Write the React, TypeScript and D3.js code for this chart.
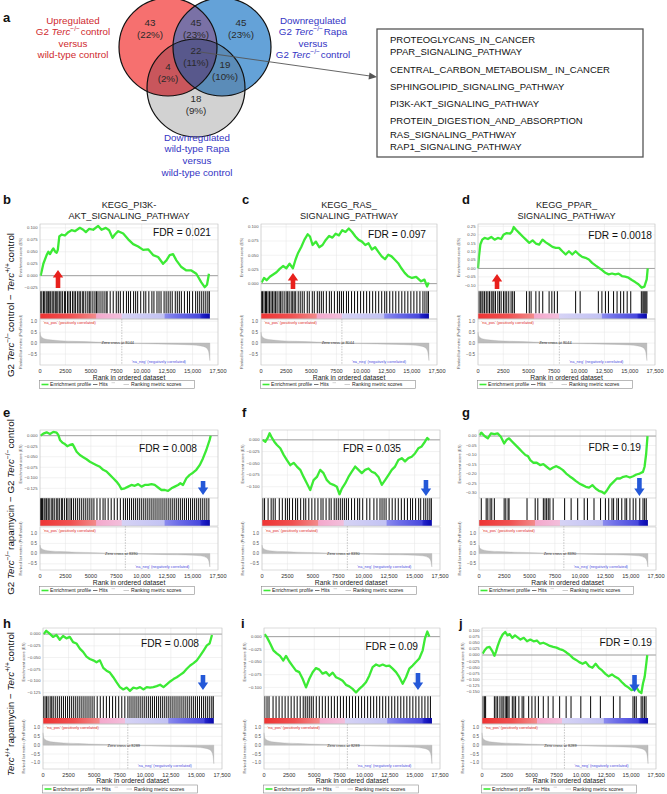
import React from "react";
import * as d3 from "d3";

const FONT = "'Liberation Sans', Arial, Helvetica, sans-serif";

/* ================= DATA ================= */
// Panel a : Venn counts (regions: R only, R∩B, B only, R∩B∩G, R∩G, B∩G, G only)
const vennCounts = [43, 45, 45, 22, 4, 19, 18];
const vennPercents = ["22%", "23%", "23%", "11%", "2%", "10%", "9%"];
const sharedPathways = [
  "PROTEOGLYCANS_IN_CANCER",
  "PPAR_SIGNALING_PATHWAY",
  "CENTRAL_CARBON_METABOLISM_ IN_CANCER",
  "SPHINGOLIPID_SIGNALING_PATHWAY",
  "PI3K-AKT_SIGNALING_PATHWAY",
  "PROTEIN_DIGESTION_AND_ABSORPTION",
  "RAS_SIGNALING_PATHWAY",
  "RAP1_SIGNALING_PATHWAY",
];

// GSEA panels
const panelLetters = ["b", "c", "d", "e", "f", "g", "h", "i", "j"];
const panelTitles = [
  ["KEGG_PI3K-", "AKT_SIGNALING_PATHWAY"],
  ["KEGG_RAS_", "SIGNALING_PATHWAY"],
  ["KEGG_PPAR_", "SIGNALING_PATHWAY"],
  [], [], [], [], [], [],
];
const panelFDR = ["0.021", "0.097", "0.0018", "0.008", "0.035", "0.19", "0.008", "0.09", "0.19"];
const zeroCross = [8044, 8390, 8289];
const datasetSize = [16700, 16700, 16700];
const rankTicks = [0, 2500, 5000, 7500, 10000, 12500, 15000, 17500];

const esTicksB = [0.1, 0.075, 0.05, 0.025, 0, -0.025];
const esTicksC = [0.1, 0.075, 0.05, 0.025, 0];
const esTicksD = [0.25, 0.2, 0.15, 0.1, 0.05, 0, -0.05, -0.1];
const esTicksE = [0, -0.025, -0.05, -0.075, -0.1, -0.125];
const esTicksF = [0, -0.025, -0.05, -0.075, -0.1];
const esTicksG = [0, -0.05, -0.1, -0.15, -0.2, -0.25, -0.3];
const esTicksH = [0, -0.025, -0.05, -0.075, -0.1, -0.125];
const esTicksI = [0, -0.025, -0.05, -0.075, -0.1];
const esTicksJ = [0.1, 0.075, 0.05, 0.025, 0, -0.025, -0.05, -0.075, -0.1, -0.125, -0.15];
const metricTicksShort = [1, 0.5, 0, -0.5];
const metricTicksLong = [1, 0.5, 0, -0.5, -1];

// Running enrichment score: [rank, ES]
const esB = [[65,0],[330,0.025],[650,0.043],[820,0.05],[980,0.045],[1210,0.054],[1310,0.057],[1500,0.05],[1640,0.048],[1750,0.054],[1900,0.082],[2130,0.086],[2450,0.084],[2780,0.091],[3100,0.095],[3430,0.093],[3920,0.1],[4250,0.096],[4510,0.091],[4840,0.098],[5230,0.096],[5720,0.104],[6050,0.096],[6470,0.1],[6800,0.095],[7130,0.079],[7360,0.086],[7690,0.093],[8180,0.088],[8670,0.076],[9160,0.066],[9650,0.061],[10140,0.054],[10630,0.055],[11120,0.043],[11610,0.039],[12100,0.025],[12430,0.032],[12750,0.043],[13080,0.045],[13410,0.032],[13900,0.018],[14390,0.011],[14880,0.011],[15370,0.004],[15860,-0.014],[16190,-0.024],[16420,-0.019],[16610,0.004]];
const esC = [[65,0.002],[300,0.01],[560,0.006],[880,0.012],[1210,0.016],[1540,0.02],[1860,0.026],[2190,0.031],[2520,0.027],[2840,0.035],[3170,0.027],[3430,0.042],[3660,0.053],[3990,0.064],[4310,0.077],[4640,0.087],[4870,0.083],[5130,0.068],[5460,0.074],[5790,0.064],[6120,0.068],[6440,0.077],[6770,0.084],[7100,0.081],[7420,0.088],[7750,0.085],[8080,0.094],[8400,0.091],[8730,0.097],[9060,0.091],[9390,0.083],[9710,0.077],[10040,0.074],[10370,0.068],[10690,0.071],[11020,0.06],[11350,0.064],[11670,0.056],[12000,0.048],[12330,0.043],[12660,0.051],[12980,0.048],[13310,0.042],[13640,0.036],[13960,0.027],[14290,0.019],[14620,0.013],[15010,0.01],[15430,0.012],[15920,0.004],[16250,0.007],[16510,-0.005],[16680,0.002]];
const esD = [[0,0],[100,0.073],[230,0.142],[420,0.171],[650,0.181],[980,0.175],[1310,0.187],[1640,0.171],[1960,0.181],[2290,0.175],[2520,0.2],[2840,0.21],[3170,0.207],[3370,0.22],[3530,0.246],[3760,0.23],[4090,0.21],[4420,0.19],[4740,0.171],[5070,0.152],[5400,0.167],[5720,0.148],[6050,0.142],[6380,0.171],[6700,0.155],[7030,0.142],[7360,0.128],[7690,0.122],[8010,0.122],[8340,0.102],[8670,0.083],[8990,0.102],[9320,0.083],[9650,0.102],[9980,0.083],[10300,0.069],[10630,0.063],[10960,0.053],[11280,0.033],[11610,0.018],[11940,0.004],[12270,-0.01],[12590,-0.026],[12920,-0.035],[13250,-0.03],[13570,-0.035],[13900,-0.031],[14230,-0.045],[14550,-0.049],[14880,-0.055],[15210,-0.069],[15540,-0.081],[15860,-0.094],[16190,-0.114],[16450,-0.108],[16680,-0.065],[16780,0]];
const esE = [[65,0],[330,0.005],[650,0.008],[980,0.004],[1310,0.009],[1640,0.007],[1800,0.002],[1960,-0.01],[2220,-0.017],[2450,-0.02],[2680,-0.025],[2940,-0.022],[3200,-0.02],[3340,-0.026],[3600,-0.038],[3920,-0.046],[4250,-0.051],[4580,-0.056],[4910,-0.062],[5230,-0.066],[5560,-0.07],[5890,-0.074],[6210,-0.081],[6540,-0.085],[6870,-0.093],[7200,-0.101],[7520,-0.109],[7780,-0.117],[8010,-0.127],[8340,-0.125],[8670,-0.121],[8990,-0.117],[9320,-0.119],[9650,-0.115],[9980,-0.121],[10300,-0.117],[10630,-0.117],[10960,-0.115],[11280,-0.117],[11610,-0.123],[11940,-0.129],[12270,-0.129],[12590,-0.131],[12920,-0.125],[13250,-0.121],[13570,-0.117],[13800,-0.113],[14060,-0.117],[14390,-0.101],[14720,-0.093],[15040,-0.088],[15370,-0.081],[15700,-0.07],[16020,-0.054],[16350,-0.034],[16680,-0.01],[16780,0]];
const esF = [[65,0],[330,-0.004],[560,0.004],[750,0.014],[980,0.004],[1210,-0.004],[1470,-0.011],[1800,-0.018],[2130,-0.032],[2450,-0.043],[2780,-0.054],[3110,-0.049],[3430,-0.057],[3760,-0.064],[4090,-0.079],[4420,-0.093],[4740,-0.107],[5070,-0.086],[5400,-0.079],[5720,-0.064],[6050,-0.071],[6380,-0.086],[6700,-0.093],[7030,-0.096],[7360,-0.1],[7620,-0.116],[7850,-0.104],[8180,-0.093],[8500,-0.079],[8830,-0.068],[9160,-0.057],[9490,-0.064],[9810,-0.071],[10140,-0.064],[10470,-0.061],[10790,-0.068],[11120,-0.071],[11450,-0.079],[11780,-0.096],[12100,-0.086],[12430,-0.075],[12760,-0.064],[13080,-0.057],[13410,-0.043],[13740,-0.039],[14060,-0.046],[14390,-0.039],[14720,-0.036],[15040,-0.029],[15370,-0.018],[15700,-0.014],[16020,-0.004],[16250,0.004],[16440,0]];
const esG = [[65,0.005],[226,0.018],[550,0],[870,-0.012],[1190,0.014],[1520,0.01],[1840,0.014],[2160,-0.004],[2490,-0.039],[2710,-0.021],[2970,-0.012],[3290,-0.03],[3620,-0.048],[3940,-0.065],[4260,-0.083],[4590,-0.1],[4840,-0.106],[5070,-0.127],[5390,-0.141],[5710,-0.141],[6040,-0.153],[6360,-0.148],[6680,-0.162],[7010,-0.176],[7330,-0.166],[7650,-0.159],[7980,-0.168],[8300,-0.18],[8620,-0.198],[8950,-0.212],[9270,-0.224],[9590,-0.238],[9910,-0.25],[10240,-0.259],[10560,-0.268],[10880,-0.272],[11210,-0.259],[11530,-0.277],[11850,-0.289],[12170,-0.295],[12400,-0.303],[12660,-0.286],[12980,-0.259],[13300,-0.242],[13630,-0.224],[13950,-0.224],[14270,-0.215],[14590,-0.212],[14920,-0.219],[15240,-0.212],[15560,-0.203],[15890,-0.198],[16210,-0.189],[16370,-0.162],[16530,-0.092],[16660,0]];
const esH = [[65,0],[320,0.007],[650,0.001],[980,-0.006],[1310,-0.002],[1640,-0.012],[1960,-0.004],[2290,-0.009],[2620,-0.006],[2940,-0.017],[3270,-0.02],[3600,-0.031],[3920,-0.038],[4250,-0.048],[4580,-0.053],[4910,-0.056],[5230,-0.06],[5560,-0.056],[5890,-0.072],[6210,-0.078],[6540,-0.082],[6870,-0.092],[7200,-0.103],[7520,-0.113],[7850,-0.118],[8180,-0.114],[8500,-0.121],[8830,-0.114],[9160,-0.116],[9490,-0.113],[9810,-0.118],[10140,-0.113],[10470,-0.114],[10790,-0.113],[11120,-0.111],[11450,-0.108],[11780,-0.113],[12100,-0.107],[12430,-0.101],[12760,-0.096],[13080,-0.092],[13410,-0.087],[13740,-0.082],[14060,-0.074],[14390,-0.067],[14720,-0.062],[15040,-0.056],[15370,-0.046],[15700,-0.035],[16020,-0.024],[16290,-0.02],[16520,-0.002]];
const esI = [[65,0.005],[260,0],[600,-0.013],[930,-0.027],[1260,-0.033],[1590,-0.038],[1920,-0.047],[2190,-0.038],[2520,-0.049],[2850,-0.058],[3180,-0.067],[3510,-0.07],[3840,-0.083],[4180,-0.1],[4510,-0.083],[4840,-0.07],[5170,-0.062],[5500,-0.065],[5830,-0.073],[6170,-0.07],[6500,-0.077],[6830,-0.071],[7160,-0.08],[7490,-0.083],[7820,-0.087],[8150,-0.095],[8480,-0.098],[8810,-0.103],[9150,-0.11],[9480,-0.103],[9810,-0.097],[10140,-0.09],[10470,-0.077],[10800,-0.06],[11140,-0.055],[11470,-0.058],[11800,-0.055],[12130,-0.058],[12460,-0.057],[12790,-0.063],[13130,-0.07],[13460,-0.08],[13790,-0.093],[14120,-0.08],[14450,-0.063],[14780,-0.057],[15110,-0.05],[15440,-0.043],[15780,-0.027],[16010,-0.003],[16240,0.01],[16440,0]];
const esJ = [[65,0.006],[230,0.017],[490,0.03],[760,0.033],[1020,0.017],[1250,-0.003],[1410,0.014],[1580,0.037],[1810,0.063],[2070,0.083],[2330,0.094],[2560,0.08],[2790,0.085],[3050,0.07],[3320,0.08],[3550,0.073],[3870,0.063],[4200,0.07],[4530,0.056],[4860,0.063],[5190,0.056],[5520,0.059],[5840,0.046],[6170,0.05],[6500,0.044],[6830,0.037],[7160,0.033],[7490,0.03],[7810,0.024],[8140,0.02],[8470,0.011],[8800,0.001],[9130,-0.012],[9460,-0.02],[9780,-0.029],[10110,-0.036],[10440,-0.029],[10770,-0.046],[11100,-0.052],[11430,-0.036],[11750,-0.052],[12080,-0.063],[12410,-0.077],[12740,-0.087],[13070,-0.079],[13400,-0.089],[13720,-0.096],[14050,-0.11],[14380,-0.123],[14710,-0.132],[15040,-0.143],[15270,-0.14],[15530,-0.132],[15800,-0.149],[16030,-0.155],[16190,-0.116],[16360,-0.089],[16520,-0.036],[16620,0]];

// Hit positions (ranks of gene-set members)
const hitsB = [60,180,350,420,600,700,820,900,1050,1200,1350,1500,1600,1750,1900,2050,2200,2400,2500,2700,2850,3000,3200,3350,3500,3700,3850,4000,4200,4300,4500,4700,4850,5000,5200,5400,5550,5700,5900,6100,6300,6500,6600,6900,7200,7500,7700,7900,8200,8500,8700,8900,9200,9400,9600,9900,10200,10400,10700,11000,11200,11500,11700,11900,12200,12400,12600,12800,13000,13300,13500,13700,13900,14200,14500,14700,15000,15300,15500,15700,15900,16100,16300,16500,16650];
const hitsC = [50,150,300,450,550,700,850,1000,1150,1300,1450,1600,1800,1950,2100,2300,2500,2650,2800,3000,3150,3300,3450,3700,3900,4100,4300,4600,4800,5100,5300,5600,5800,6000,6200,6500,6800,7000,7300,7600,7800,8000,8200,8500,8700,9000,9300,9600,9900,10200,10500,10800,11100,11400,11700,12000,12300,12500,12800,13100,13400,13700,14000,14300,14600,14900,15200,15500,15800,16100,16300,16500,16650];
const hitsD = [100,230,390,490,650,820,980,1140,1310,1470,1570,1730,1960,2130,2290,2520,2680,2840,3040,3270,3430,3600,4800,5070,5250,5720,6050,6400,7030,7300,7550,7850,9650,10100,11900,12250,12600,12900,13400,13750,14100,14400,14750,15100,16150,16300,16400,16500,16600,16700];
const hitsE = [50,150,250,400,500,650,800,900,1100,1250,1400,1600,1750,1900,2100,2200,2400,2600,2750,2950,3100,3300,3500,3700,3900,4100,4300,4500,4700,4900,5100,5300,5600,5900,6200,6400,6700,7000,7300,7600,7900,8200,8400,8600,8800,9000,9200,9400,9600,9800,10000,10200,10400,10600,10800,11000,11200,11400,11600,11800,12000,12200,12400,12600,12800,13000,13200,13400,13600,13800,14000,14200,14400,14600,14800,15000,15200,15400,15600,15800,16000,16200,16400,16600];
const hitsF = [80,250,600,900,1100,1300,1700,2000,2300,2500,2700,3000,3300,3500,3800,4100,4300,4600,4900,5200,5500,5800,6000,6300,6600,6800,7100,7300,7500,7700,7900,8100,8300,8500,8800,9100,9400,9600,9900,10300,10600,11000,11300,11600,11800,12000,12200,12500,12800,13100,13400,13700,14000,14300,14600,14800,15100,15400,15600,15900,16100,16300,16500,16650];
const hitsG = [226,710,872,1098,1260,1518,2487,2649,2875,2972,4748,5556,5814,6363,6525,6686,6848,7009,7332,8463,9109,9755,10401,10724,11370,12016,12500,12823,13146,13307,13630,13792,14115,14438,14600,14923,15246,15505,15892,16215,16376,16537];
const hitsH = [50,200,350,500,700,850,1000,1200,1400,1600,1800,2000,2200,2400,2600,2800,3000,3200,3400,3600,3800,4000,4200,4400,4600,4800,5000,5300,5600,5900,6200,6500,6800,7100,7400,7700,8000,8300,8500,8700,8900,9100,9300,9500,9700,9900,10100,10300,10500,10700,10900,11100,11300,11500,11700,11900,12100,12300,12500,12700,12900,13100,13300,13500,13700,13900,14100,14300,14500,14700,14900,15100,15300,15500,15700,15900,16100,16300,16500,16650];
const hitsI = [80,300,500,900,1200,1500,1800,2100,2400,2700,3000,3300,3600,3900,4100,4300,4500,4700,4900,5200,5500,5800,6100,6400,6700,7000,7300,7600,7900,8200,8500,8800,9100,9400,9700,10000,10300,10600,10900,11200,11500,11800,12100,12400,12700,13000,13300,13600,13900,14200,14500,14800,15100,15400,15700,16000,16300,16550];
const hitsJ = [98,262,361,1246,1410,1574,1804,2001,2132,2329,2460,2591,2722,3050,3214,3378,3706,4034,4198,4690,5018,5346,5674,6166,6658,7150,7806,8462,8954,9938,10922,11906,13218,13874,15186,15350,15514,16006,16170,16334,16498];

// Ranked list metric per comparison row: [rank, metric]
const metricRow1 = [[0,0.5],[60,0.35],[200,0.26],[500,0.19],[1000,0.15],[2000,0.11],[3500,0.08],[5500,0.05],[7000,0.025],[8044,0],[9500,-0.02],[11500,-0.04],[13500,-0.06],[15000,-0.09],[15800,-0.13],[16300,-0.2],[16550,-0.35],[16650,-0.6],[16700,-0.8]];
const metricRow2 = [[0,0.42],[60,0.3],[200,0.23],[500,0.17],[1000,0.13],[2000,0.1],[3500,0.07],[5500,0.045],[7000,0.022],[8390,0],[9500,-0.02],[11500,-0.04],[13500,-0.06],[15000,-0.08],[15800,-0.11],[16300,-0.18],[16550,-0.3],[16650,-0.5],[16700,-0.65]];
const metricRow3 = [[0,0.7],[60,0.45],[200,0.32],[500,0.24],[1000,0.18],[2000,0.13],[3500,0.09],[5500,0.05],[7000,0.025],[8289,0],[9500,-0.03],[11500,-0.06],[13500,-0.09],[15000,-0.12],[15800,-0.17],[16300,-0.26],[16550,-0.45],[16650,-0.75],[16700,-1.05]];

// Arrow annotations (rank position)
const arrowRanks = [1770, 3180, 1880, 16030, 16120, 15860, 15640, 15310, 15340];

/* ================= LAYOUT ================= */
const esSeries = [esB, esC, esD, esE, esF, esG, esH, esI, esJ];
const hitSeries = [hitsB, hitsC, hitsD, hitsE, hitsF, hitsG, hitsH, hitsI, hitsJ];
const esTickSets = [esTicksB, esTicksC, esTicksD, esTicksE, esTicksF, esTicksG, esTicksH, esTicksI, esTicksJ];
const metricSeries = [metricRow1, metricRow2, metricRow3];

const rowLayout = [
  { esTop: 224, esBottom: 291, barTop: 313.5, barBottom: 319, rankTop: 319, rankBottom: 365, tickY: 373, xlabY: 379.6, legY: 380.5, mDomain: [-1.0, 1.1], mTicks: metricTicksShort, letterY: 204 },
  { esTop: 430, esBottom: 498, barTop: 520, barBottom: 526, rankTop: 527, rankBottom: 570, tickY: 578, xlabY: 584.6, legY: 586.5, mDomain: [-0.8, 1.3], mTicks: metricTicksShort, letterY: 417 },
  { esTop: 628, esBottom: 696, barTop: 718, barBottom: 724, rankTop: 724, rankBottom: 769, tickY: 776.5, xlabY: 783, legY: 785, mDomain: [-1.35, 1.2], mTicks: metricTicksLong, letterY: 627.5 },
];

const panelLayout = [
  { row: 0, x0: 40, x1: 218, es: [-0.032, 0.108], fmt: ".3f", fdrX: 211, fdrY: 236, arrow: [270, 288], letterX: 3 },
  { row: 0, x0: 261, x1: 437, es: [-0.013, 0.105], fmt: ".3f", fdrX: 426, fdrY: 238, arrow: [273, 289], letterX: 242 },
  { row: 0, x0: 478, x1: 655, es: [-0.134, 0.264], fmt: ".2f", fdrX: 652, fdrY: 239, arrow: [274, 289], letterX: 462 },
  { row: 1, x0: 40, x1: 218, es: [-0.148, 0.0135], fmt: ".3f", fdrX: 197, fdrY: 452, arrow: [495, 481], letterX: 3 },
  { row: 1, x0: 262, x1: 440, es: [-0.124, 0.021], fmt: ".3f", fdrX: 401, fdrY: 452, arrow: [496, 480], letterX: 242 },
  { row: 1, x0: 479, x1: 656, es: [-0.327, 0.032], fmt: ".2f", fdrX: 641, fdrY: 451, arrow: [496, 478], letterX: 462 },
  { row: 2, x0: 43, x1: 222, es: [-0.132, 0.013], fmt: ".3f", fdrX: 199, fdrY: 647, arrow: [690, 675], letterX: 3 },
  { row: 2, x0: 264, x1: 440, es: [-0.117, 0.017], fmt: ".3f", fdrX: 418, fdrY: 650, arrow: [690, 673], letterX: 241 },
  { row: 2, x0: 482, x1: 656, es: [-0.167, 0.11], fmt: ".3f", fdrX: 652, fdrY: 646, arrow: [692, 675], letterX: 459 },
];

const barStops: [number, string][] = [
  [0, "#ee3434"], [3000, "#f05050"], [5500, "#f38a8a"], [5560, "#f4a8cc"], [8000, "#f3bedb"],
  [8050, "#d6d3f5"], [12200, "#c2c2f3"], [12300, "#8a8aee"], [13600, "#6c6ce8"], [15700, "#4848dd"],
  [15900, "#2424c8"], [16300, "#1414bc"], [16700, "#0a0aa8"],
];

const GREEN = "#3cea35";

function fmtRank(v: number) {
  return v >= 10000 ? d3.format(",")(v) : String(v);
}

function Arrow({ x, tip, base, color }: any) {
  const s = tip < base ? 1 : -1;
  const hw = 5.2, sw = 2.3, hl = 7.5;
  const pts = [
    [x, tip], [x + hw, tip + s * hl], [x + sw, tip + s * hl], [x + sw, base],
    [x - sw, base], [x - sw, tip + s * hl], [x - hw, tip + s * hl],
  ];
  return <polygon points={pts.map((p) => p.join(",")).join(" ")} fill={color} />;
}

function Legend({ x, y }: any) {
  const h = 8, cy = y + h / 2, fs = 5.1;
  return (
    <g>
      <rect x={x} y={y} width={155} height={h} fill="#fff" stroke="#8a8a8a" strokeWidth={0.6} />
      <line x1={x + 2} x2={x + 9} y1={cy} y2={cy} stroke={GREEN} strokeWidth={1.6} />
      <text x={x + 10.5} y={cy + 1.8} fontSize={fs} fill="#222">Enrichment profile</text>
      <line x1={x + 53.5} x2={x + 58} y1={cy} y2={cy} stroke="#111" strokeWidth={0.6} />
      <text x={x + 59.5} y={cy + 1.8} fontSize={fs} fill="#222">Hits</text>
      <line x1={x + 72} x2={x + 75.5} y1={cy - 1.8} y2={cy - 1.8} stroke="#aaa" strokeWidth={0.5} />
      <line x1={x + 84} x2={x + 89.5} y1={cy} y2={cy} stroke="#aaa" strokeWidth={0.6} />
      <text x={x + 91.5} y={cy + 1.8} fontSize={fs} fill="#222">Ranking metric scores</text>
    </g>
  );
}

function GseaPanel({ idx }: { idx: number }) {
  const L = panelLayout[idx];
  const R = rowLayout[L.row];
  const x = d3.scaleLinear().domain([0, 17500]).range([L.x0, L.x1]);
  const y = d3.scaleLinear().domain(L.es).range([R.esBottom, R.esTop]);
  const ym = d3.scaleLinear().domain(R.mDomain).range([R.rankBottom, R.rankTop]);
  const es = esSeries[idx] as [number, number][];
  const hits = hitSeries[idx];
  const metric = metricSeries[L.row] as [number, number][];
  const zc = zeroCross[L.row];
  const nMax = datasetSize[L.row];
  const line = d3.line<[number, number]>().x((d) => x(d[0])).y((d) => y(d[1]));
  const area = d3.area<[number, number]>().x((d) => x(d[0])).y0(ym(0)).y1((d) => ym(d[1])).curve(d3.curveMonotoneX);
  const fmt = d3.format(L.fmt);
  const mfmt = d3.format(".1f");
  const gid = `cbar${idx}`;
  const up = L.row === 0;
  const w = L.x1 - L.x0;
  const cx = (L.x0 + L.x1) / 2;
  const grid = "#e4e4e4";
  const frame = "#c4c4c4";
  const tiny = 4.2;
  return (
    <g>
      <defs>
        <linearGradient id={gid} gradientUnits="userSpaceOnUse" x1={x(0)} x2={x(nMax)} y1={0} y2={0}>
          {barStops.map(([r, c], i) => (
            <stop key={i} offset={r / nMax} stopColor={c} />
          ))}
        </linearGradient>
      </defs>
      <text x={L.letterX} y={R.letterY} fontSize={13} fontWeight="bold" fill="#111">{panelLetters[idx]}</text>
      {panelTitles[idx].map((t, i) => (
        <text key={i} x={cx} y={207.5 + i * 11.5} fontSize={9.2} textAnchor="middle" fill="#222">{t}</text>
      ))}
      {/* ES plot */}
      <rect x={L.x0} y={R.esTop} width={w} height={R.esBottom - R.esTop} fill="#fff" />
      {rankTicks.map((t) => (
        <line key={"vg" + t} x1={x(t)} x2={x(t)} y1={R.esTop} y2={R.esBottom} stroke={grid} strokeWidth={0.5} />
      ))}
      {esTickSets[idx].map((t) => (
        <line key={"hg" + t} x1={L.x0} x2={L.x1} y1={y(t)} y2={y(t)} stroke={grid} strokeWidth={0.5} />
      ))}
      <line x1={L.x0} x2={L.x1} y1={y(0)} y2={y(0)} stroke="#8c8c8c" strokeWidth={0.8} />
      {esTickSets[idx].map((t) => (
        <text key={"yt" + t} x={L.x0 - 2.5} y={y(t) + 1.4} fontSize={tiny} textAnchor="end" fill="#555">{fmt(t)}</text>
      ))}
      <text transform={`translate(${L.x0 - 18},${(R.esTop + R.esBottom) / 2}) rotate(-90)`} fontSize={3.9} textAnchor="middle" fill="#555">Enrichment score (ES)</text>
      <path d={line(es) || ""} fill="none" stroke={GREEN} strokeWidth={2.3} strokeLinejoin="round" />
      <text x={L.fdrX} y={L.fdrY} fontSize={10.2} textAnchor="end" fill="#111">{"FDR = " + panelFDR[idx]}</text>
      <Arrow x={x(arrowRanks[idx])} tip={L.arrow[0]} base={L.arrow[1]} color={up ? "#e8201c" : "#2458d8"} />
      {/* hits */}
      <rect x={L.x0} y={R.esBottom} width={w} height={R.barTop - R.esBottom} fill="#fff" />
      {hits.map((h, i) => (
        <line key={"h" + i} x1={x(h)} x2={x(h)} y1={R.esBottom} y2={R.barTop} stroke="#111" strokeWidth={1.05} />
      ))}
      {/* color bar */}
      <rect x={x(0)} y={R.barTop} width={x(nMax) - x(0)} height={R.barBottom - R.barTop} fill={`url(#${gid})`} />
      <rect x={L.x0} y={R.esTop} width={w} height={R.barBottom - R.esTop} fill="none" stroke={frame} strokeWidth={0.6} />
      <line x1={L.x0} x2={L.x1} y1={R.esBottom} y2={R.esBottom} stroke={frame} strokeWidth={0.6} />
      {/* ranked metric */}
      {rankTicks.map((t) => (
        <line key={"mv" + t} x1={x(t)} x2={x(t)} y1={R.rankTop} y2={R.rankBottom} stroke={grid} strokeWidth={0.5} />
      ))}
      {R.mTicks.map((t) => (
        <line key={"mh" + t} x1={L.x0} x2={L.x1} y1={ym(t)} y2={ym(t)} stroke={grid} strokeWidth={0.5} />
      ))}
      <path d={area(metric) || ""} fill="#bdbdbd" stroke="#a8a8a8" strokeWidth={0.3} />
      <line x1={x(zc)} x2={x(zc)} y1={R.barBottom} y2={R.rankBottom} stroke="#8a8a8a" strokeWidth={0.5} strokeDasharray="1.5,1.2" />
      <text x={x(zc) - 4} y={ym(0) + 1.4} fontSize={3.9} textAnchor="middle" fill="#333">{"Zero cross at " + zc}</text>
      <text x={L.x0 + 3.5} y={R.rankTop + 5} fontSize={3.9} fill="#e02828">'na_pos' (positively correlated)</text>
      <text x={x(zc) + 10} y={R.rankBottom - 1.8} fontSize={3.9} fill="#4a4ae0">'na_neg' (negatively correlated)</text>
      <rect x={L.x0} y={R.rankTop} width={w} height={R.rankBottom - R.rankTop} fill="none" stroke={frame} strokeWidth={0.6} />
      {R.mTicks.map((t) => (
        <text key={"mt" + t} x={L.x0 - 3} y={ym(t) + 1.6} fontSize={4.5} textAnchor="end" fill="#555">{mfmt(t)}</text>
      ))}
      <text transform={`translate(${L.x0 - 18},${(R.rankTop + R.rankBottom) / 2}) rotate(-90)`} fontSize={3.9} textAnchor="middle" fill="#555">Ranked list metric (PreRanked)</text>
      {rankTicks.map((t) => (
        <text key={"xt" + t} x={x(t)} y={R.tickY} fontSize={5.6} textAnchor="middle" fill="#333">{fmtRank(t)}</text>
      ))}
      <text x={cx} y={R.xlabY} fontSize={6.8} textAnchor="middle" fill="#222">Rank in ordered dataset</text>
      <Legend x={L.x0 - 0.5} y={R.legY} />
    </g>
  );
}

function Sup({ t }: { t: string }) {
  return (
    <>
      <tspan dy={-3.6} fontSize="0.68em">{t}</tspan>
      <tspan dy={3.6}>{"\u200A"}</tspan>
    </>
  );
}

function Venn() {
  const cR = { cx: 168, cy: 47, r: 49 };
  const cB = { cx: 222, cy: 47, r: 49 };
  const cG = { cx: 196, cy: 88, r: 49 };
  const pos = [[150, 22], [196, 22], [241, 22], [196, 50], [168, 66], [225, 64], [196, 98]];
  const fs = 9.8;
  const red = "#cf2a2e";
  const blue = "#3434c4";
  return (
    <g>
      <defs>
        <clipPath id="clipR"><circle {...cR} /></clipPath>
        <clipPath id="clipB"><circle {...cB} /></clipPath>
      </defs>
      <circle {...cG} fill="#d2d2d2" />
      <circle {...cR} fill="#f6706f" />
      <circle {...cB} fill="#64a2d8" />
      <circle {...cB} fill="#7a71a6" clipPath="url(#clipR)" />
      <circle {...cG} fill="#c9565c" clipPath="url(#clipR)" />
      <circle {...cG} fill="#5b8cb8" clipPath="url(#clipB)" />
      <g clipPath="url(#clipR)">
        <circle {...cG} fill="#58588c" clipPath="url(#clipB)" />
      </g>
      {[cR, cB, cG].map((c, i) => (
        <circle key={i} {...c} fill="none" stroke="#111" strokeWidth={1.2} />
      ))}
      {vennCounts.map((n, i) => (
        <g key={i}>
          <text x={pos[i][0]} y={pos[i][1] + 3.5} fontSize={fs} textAnchor="middle" fill="#2a2a2a">{n}</text>
          <text x={pos[i][0]} y={pos[i][1] + 16} fontSize={fs} textAnchor="middle" fill="#2a2a2a">{"(" + vennPercents[i] + ")"}</text>
        </g>
      ))}
      <text x={3} y={22} fontSize={13} fontWeight="bold" fill="#111">a</text>
      <g fontSize={fs} textAnchor="middle" fill={red}>
        <text x={73} y={23.5}>Upregulated</text>
        <text x={73} y={35}>G2 <tspan fontStyle="italic">Terc</tspan><Sup t="−/−" />control</text>
        <text x={73} y={46.5}>versus</text>
        <text x={73} y={58}>wild-type control</text>
      </g>
      <g fontSize={fs} textAnchor="middle" fill={blue}>
        <text x={313} y={23.5}>Downregulated</text>
        <text x={313} y={35}>G2 <tspan fontStyle="italic">Terc</tspan><Sup t="−/−" />Rapa</text>
        <text x={313} y={46.5}>versus</text>
        <text x={313} y={58}>G2 <tspan fontStyle="italic">Terc</tspan><Sup t="−/−" />control</text>
      </g>
      <g fontSize={fs} textAnchor="middle" fill={blue}>
        <text x={197} y={140.5}>Downregulated</text>
        <text x={197} y={152}>wild-type Rapa</text>
        <text x={197} y={163.5}>versus</text>
        <text x={197} y={175.5}>wild-type control</text>
      </g>
      <line x1={200} y1={52} x2={370} y2={76} stroke="#555" strokeWidth={0.9} />
      <polygon points="377,77 369.5,72.5 368.5,79.5" fill="#555" />
    </g>
  );
}

function PathwayBox() {
  const lineY = [42.7, 55, 72.7, 90, 107.4, 124.4, 137.7, 150.4];
  return (
    <g>
      <rect x={377} y={29} width={266} height={128} fill="#fff" stroke="#555" strokeWidth={1.3} />
      {sharedPathways.map((p, i) => (
        <text key={i} x={390} y={lineY[i]} fontSize={9.5} fill="#111">{p}</text>
      ))}
    </g>
  );
}

function RowLabel({ cy, children }: any) {
  return (
    <text transform={`translate(13.5,${cy}) rotate(-90)`} fontSize={9.8} textAnchor="middle" fill="#111">
      {children}
    </text>
  );
}

export default function App() {
  return (
    <svg width={667} height={794} style={{ position: "absolute", left: 0, top: 0, background: "#fff" }} fontFamily={FONT}>
      <rect width={667} height={794} fill="#fff" />
      <Venn />
      <PathwayBox />
      <RowLabel cy={305}>
        G2 <tspan fontStyle="italic">Terc</tspan><Sup t="−/−" />control − <tspan fontStyle="italic">Terc</tspan><Sup t="+/+" />control
      </RowLabel>
      <RowLabel cy={507}>
        G2 <tspan fontStyle="italic">Terc</tspan><Sup t="−/−" />rapamycin − G2 <tspan fontStyle="italic">Terc</tspan><Sup t="−/−" />control
      </RowLabel>
      <RowLabel cy={704}>
        <tspan fontStyle="italic">Terc</tspan><Sup t="+/+" />rapamycin − <tspan fontStyle="italic">Terc</tspan><Sup t="+/+" />control
      </RowLabel>
      {panelLetters.map((_, i) => (
        <GseaPanel key={i} idx={i} />
      ))}
    </svg>
  );
}
